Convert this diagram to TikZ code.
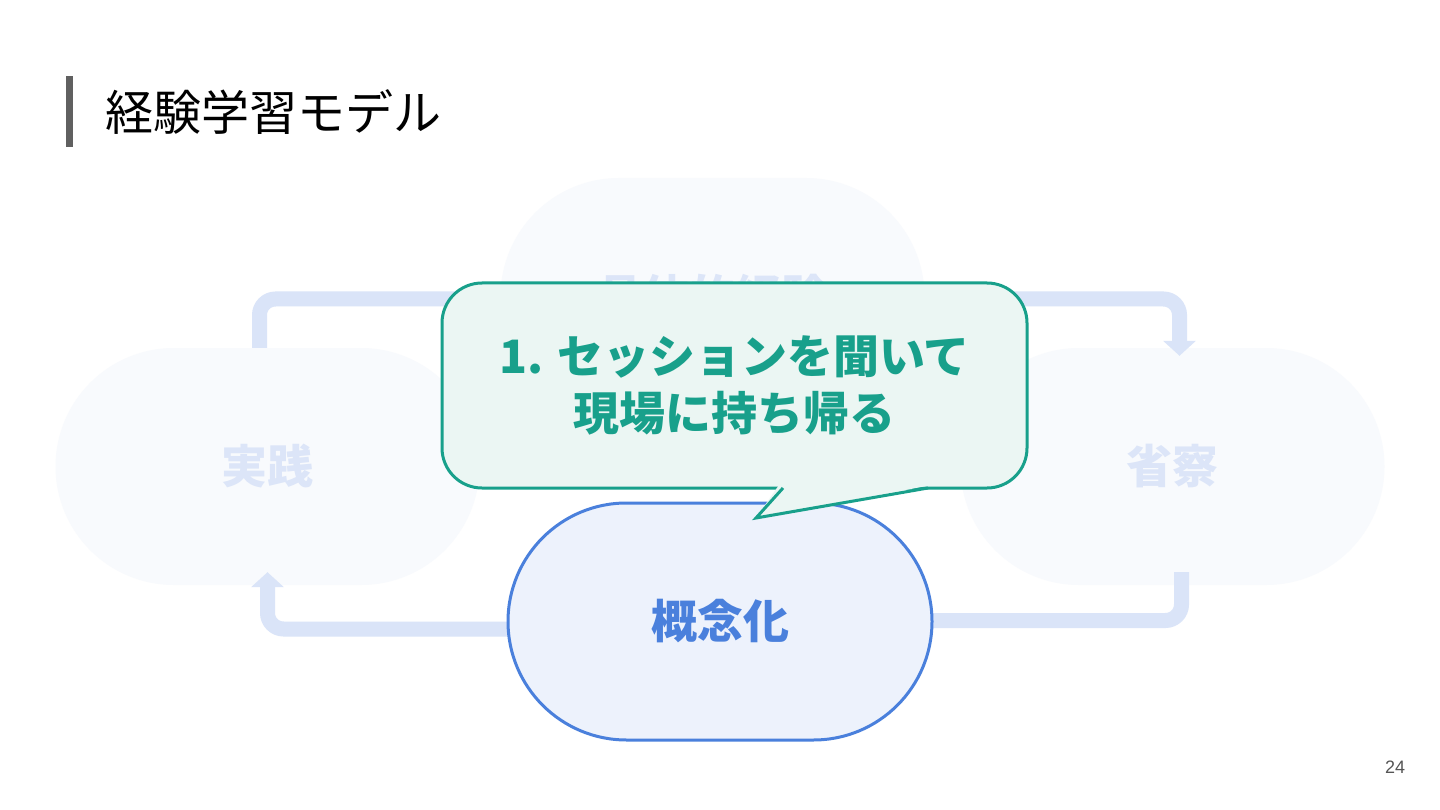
\documentclass[tikz,border=0pt]{standalone}
\usepackage{fontspec}
\newfontfamily\jp{Noto Sans CJK JP}
\setsansfont{Liberation Sans}
\usetikzlibrary{arrows.meta}
\pgfdeclarelayer{back}
\pgfdeclarelayer{mid}
\pgfsetlayers{back,mid,main}
\definecolor{fadefill}{HTML}{F8FAFD}
\definecolor{fadetext}{HTML}{DCE5F8}
\definecolor{flowc}{HTML}{DAE4F8}
\definecolor{gainfill}{HTML}{EDF2FC}
\definecolor{gaindraw}{HTML}{4A80DC}
\definecolor{notefill}{HTML}{EBF6F3}
\definecolor{notedraw}{HTML}{18A08B}
\definecolor{bargray}{HTML}{606060}
\definecolor{pagegray}{HTML}{555555}
\begin{document}
\begin{tikzpicture}[x=1pt,y=-1pt,
  stage/.style={rectangle, rounded corners=118.5pt, minimum width=424pt, minimum height=237pt, inner sep=0pt,
    font=\jp\bfseries\fontsize{46}{50}\selectfont},
  faded/.style={stage, fill=fadefill, text=fadetext},
  flow/.style={line width=15pt, draw=flowc, rounded corners=16pt},
  flowtip/.style={flow, -{Triangle[width=32pt,length=15pt]}},
  notebox/.style={rectangle, rounded corners=40pt, minimum width=585pt, minimum height=205pt, inner sep=0pt,
    fill=notefill, draw=notedraw, line width=3pt, text=notedraw, align=center,
    font=\jp\bfseries\fontsize{46}{57}\selectfont}]
\begin{pgfonlayer}{back}
\fill[white] (0,0) rectangle (1440,810);
\end{pgfonlayer}
\useasboundingbox (0,0) rectangle (1440,810);

% title
\fill[bargray] (65.5,76) rectangle (72.5,147.5);
\node[anchor=west, inner sep=0pt, font=\jp\fontsize{48}{50}\selectfont] (title) at (105.5,112) {経験学習モデル};

% stages
\begin{pgfonlayer}{back}
\node[faded] (gutai) at (712.5,296.5) {具体的経験};
\node[faded] (jissen) at (267.5,466.5) {実践};
\node[faded] (seisatsu) at (1172.5,466.5) {省察};
\end{pgfonlayer}
\node[stage, fill=gainfill, draw=gaindraw, line width=3pt, text=gaindraw] (gainen) at (720,621.5) {概念化};

% cycle connectors
\begin{pgfonlayer}{mid}
\draw[flow] ([xshift=-8pt]jissen.north) |- ([yshift=-2.5pt]gutai.west);
\draw[flowtip] ([yshift=-2.5pt]gutai.east) -| ([xshift=7pt,yshift=-8pt]seisatsu.north);
\draw[flow] ([xshift=9pt,yshift=13pt]seisatsu.south) |- ([xshift=-20pt,yshift=1pt]gainen.east);
\draw[flowtip] ([xshift=20pt,yshift=-7.5pt]gainen.west) -| ([yshift=13pt]jissen.south);
\end{pgfonlayer}

% callout
\node[notebox] (note) at (734.5,385.5) {1. セッションを聞いて\\現場に持ち帰る};
\fill[notefill] (779,485) -- (756,518) -- (932,485) -- cycle;
\draw[notedraw, line width=3pt] (783,488) -- (756,518) -- (928,488);

% page number
\node[font=\sffamily\fontsize{18}{20}\selectfont, text=pagegray, inner sep=0pt] (page) at (1395,767) {24};
\end{tikzpicture}
\end{document}
